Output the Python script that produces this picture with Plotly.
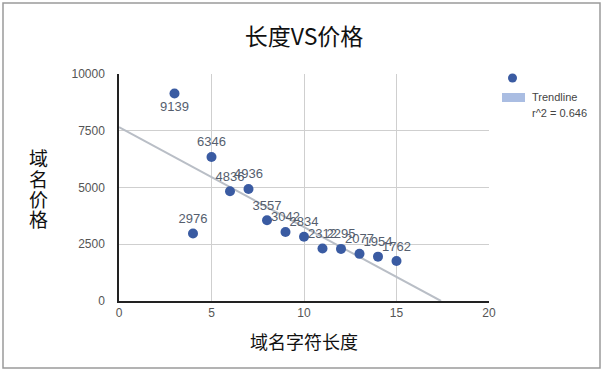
import numpy as np
import plotly.graph_objects as go

# Data
lengths = [3, 4, 5, 6, 7, 8, 9, 10, 11, 12, 13, 14, 15]
prices = [9139, 2976, 6346, 4836, 4936, 3557, 3042, 2834, 2312, 2295, 2077, 1954, 1762]
label_pos = ["bottom center"] + ["top center"] * 12
x_ticks = [0, 5, 10, 15, 20]
y_ticks = [0, 2500, 5000, 7500, 10000]
y_tick_text = ["0", "2500", "5000", "7500", "10000"]

title_text = "长度VS价格"
x_title = "域名字符长度"
y_title = "域名价格"

# Linear trendline (least squares)
slope, intercept = np.polyfit(lengths, prices, 1)
pred = slope * np.array(lengths) + intercept
ss_res = np.sum((np.array(prices) - pred) ** 2)
ss_tot = np.sum((np.array(prices) - np.mean(prices)) ** 2)
r2 = 1 - ss_res / ss_tot
x_end = -intercept / slope
trend_x = [0, x_end]
trend_y = [intercept, 0]

blue = "#3a5ba2"
CJK = "Noto Sans CJK SC"
LAT = "Arial, Liberation Sans"

fig = go.Figure()
fig.add_trace(go.Scatter(
    x=trend_x, y=trend_y, mode="lines",
    line=dict(color="#b9bec6", width=2), hoverinfo="skip", showlegend=False))
fig.add_trace(go.Scatter(
    x=lengths, y=prices, mode="markers+text",
    marker=dict(color=blue, size=10),
    text=[str(v) for v in prices], textposition=label_pos,
    textfont=dict(family=LAT, size=13, color="#555e6e"),
    showlegend=False, cliponaxis=False))

W, H = 608, 372
L, R, T, B = 119, 119, 74, 71
pw, ph = W - L - R, H - T - B

def px(xp):
    return (xp - L) / pw

def py(yp):
    return (H - B - yp) / ph

fig.update_layout(
    width=W, height=H,
    margin=dict(l=L, r=R, t=T, b=B),
    paper_bgcolor="white", plot_bgcolor="white",
    title=dict(text=title_text, x=0.5, xanchor="center", y=1 - 37 / H, yanchor="middle",
               font=dict(family=CJK, size=23, color="#111")),
    xaxis=dict(range=[0, 20], tickvals=x_ticks, showgrid=True, gridcolor="#cfcfcf",
               showline=True, linecolor="#222", linewidth=1.5, zeroline=False,
               tickfont=dict(family=LAT, size=12, color="#555"),
               title=dict(text=x_title, font=dict(family=CJK, size=18, color="#111"), standoff=17)),
    yaxis=dict(range=[0, 10000], tickvals=y_ticks, ticktext=y_tick_text,
               showgrid=True, gridcolor="#cfcfcf",
               showline=True, linecolor="#222", linewidth=1.5, zeroline=False,
               ticklabelstandoff=10,
               tickfont=dict(family=LAT, size=12, color="#555")),
    showlegend=False,
)

# Y title (stacked characters)
y_char_pos = [157, 178, 198, 218]
for ch, yp in zip(y_title, y_char_pos):
    fig.add_annotation(text=ch, xref="paper", yref="paper",
                       x=px(38), y=py(yp), xanchor="center", yanchor="middle",
                       showarrow=False, font=dict(family=CJK, size=19, color="#111"))

# Custom legend
fig.add_shape(type="circle", xref="paper", yref="paper",
              x0=px(508), x1=px(517), y0=py(82.5), y1=py(73.5),
              fillcolor=blue, line=dict(width=0))
fig.add_shape(type="rect", xref="paper", yref="paper",
              x0=px(502), x1=px(525), y0=py(102), y1=py(93),
              fillcolor="#aabde2", line=dict(width=0))
fig.add_annotation(text="Trendline", xref="paper", yref="paper", x=px(530), y=py(97),
                   xanchor="left", yanchor="middle", showarrow=False,
                   font=dict(family=LAT, size=11, color="#444"))
fig.add_annotation(text=f"r^2 = {r2:.3f}", xref="paper", yref="paper", x=px(530), y=py(113),
                   xanchor="left", yanchor="middle", showarrow=False,
                   font=dict(family=LAT, size=11, color="#444"))

# Outer border
fig.add_shape(type="rect", xref="paper", yref="paper",
              x0=px(3), x1=px(600), y0=py(368), y1=py(3),
              line=dict(color="#9a9a9a", width=1.5), fillcolor="rgba(0,0,0,0)")

fig.write_html("out.html", config={"displayModeBar": False},
               post_script="document.body.style.margin='0px';")
